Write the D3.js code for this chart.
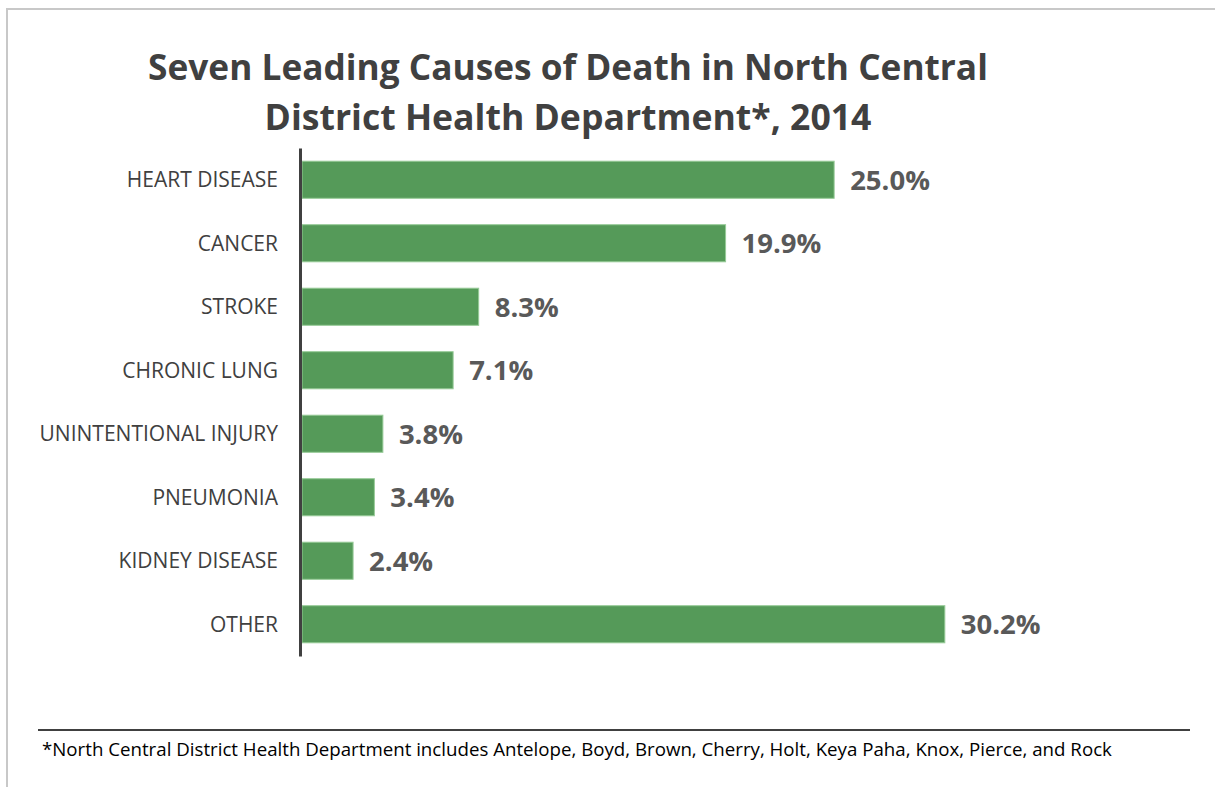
<!DOCTYPE html>
<html lang="en">
<head>
<meta charset="utf-8">
<title>Seven Leading Causes of Death in North Central District Health Department, 2014</title>
<script src="https://cdn.jsdelivr.net/npm/d3@7"></script>
<style>
  body { margin: 0; background: #fff; }
  svg { display: block; }
  .cat { font-family: 'Open Sans', sans-serif; font-size: 21px; fill: #404040; }
  .val { font-family: 'Open Sans', sans-serif; font-weight: 700; font-size: 27.5px; fill: #595959; }
  .title { font-family: 'Open Sans', sans-serif; font-weight: 700; fill: #404040; }
  .note { font-family: 'Open Sans', sans-serif; font-size: 18.7px; fill: #000; }
</style>
</head>
<body>
<svg width="1215" height="787"></svg>
<script>
// data
var causes = ["HEART DISEASE", "CANCER", "STROKE", "CHRONIC LUNG",
              "UNINTENTIONAL INJURY", "PNEUMONIA", "KIDNEY DISEASE", "OTHER"];
var percents = [25.0, 19.9, 8.3, 7.1, 3.8, 3.4, 2.4, 30.2];
var titleLines = ["Seven Leading Causes of Death in North Central",
                  "District Health Department*, 2014"];
var footnote = "*North Central District Health Department includes Antelope, Boyd, Brown, Cherry, Holt, Keya Paha, Knox, Pierce, and Rock";

var svg = d3.select("svg");

// frame (top + left edge only)
svg.append("path")
    .attr("d", "M7,787V9H1215")
    .attr("fill", "none")
    .attr("stroke", "#c8c8c8")
    .attr("stroke-width", 2);

// title, fitted to the widths seen in the original
var titleWidths = [840, 607];
titleLines.forEach(function(t, i) {
  var txt = svg.append("text")
      .attr("class", "title")
      .attr("x", 568)
      .attr("y", 80 + i * 50)
      .attr("text-anchor", "middle")
      .style("font-size", "36px")
      .text(t);
  var w = txt.node().getComputedTextLength();
  txt.style("font-size", (36 * titleWidths[i] / w) + "px");
});

var x = d3.scaleLinear().domain([0, 35]).range([302, 1047]);
var y = d3.scaleBand().domain(causes).range([148, 656])
    .paddingInner(0.4).paddingOuter(0.2);

var rows = causes.map(function(c, i) { return {cause: c, pct: percents[i]}; });

svg.selectAll("rect.bar")
  .data(rows)
  .enter().append("rect")
    .attr("class", "bar")
    .attr("x", x(0))
    .attr("y", function(d) { return y(d.cause) + 0.5; })
    .attr("width", function(d) { return x(d.pct) - x(0); })
    .attr("height", y.bandwidth() - 1)
    .attr("fill", "#559a59")
    .attr("stroke", "#97cb98")
    .attr("stroke-width", 1);

svg.selectAll("text.val")
  .data(rows)
  .enter().append("text")
    .attr("class", "val")
    .attr("x", function(d) { return x(d.pct) + 16; })
    .attr("y", function(d) { return y(d.cause) + y.bandwidth() / 2 + 10; })
    .text(function(d) { return d.pct.toFixed(1) + "%"; });

// category axis
var yAxis = svg.append("g")
    .attr("transform", "translate(" + (x(0) - 2) + ",0)")
    .call(d3.axisLeft(y).tickSize(0).tickPadding(22));
yAxis.select(".domain")
    .attr("stroke", "#404040")
    .attr("stroke-width", 3);
yAxis.selectAll(".tick text")
    .attr("class", "cat")
    .attr("font-family", null)
    .attr("font-size", null)
    .attr("fill", null)
    .attr("dy", "0.35em");

// footnote
svg.append("line")
    .attr("x1", 38).attr("x2", 1190)
    .attr("y1", 730).attr("y2", 730)
    .attr("stroke", "#404040")
    .attr("stroke-width", 2);
svg.append("text")
    .attr("class", "note")
    .attr("x", 42)
    .attr("y", 756)
    .text(footnote);
</script>
</body>
</html>
